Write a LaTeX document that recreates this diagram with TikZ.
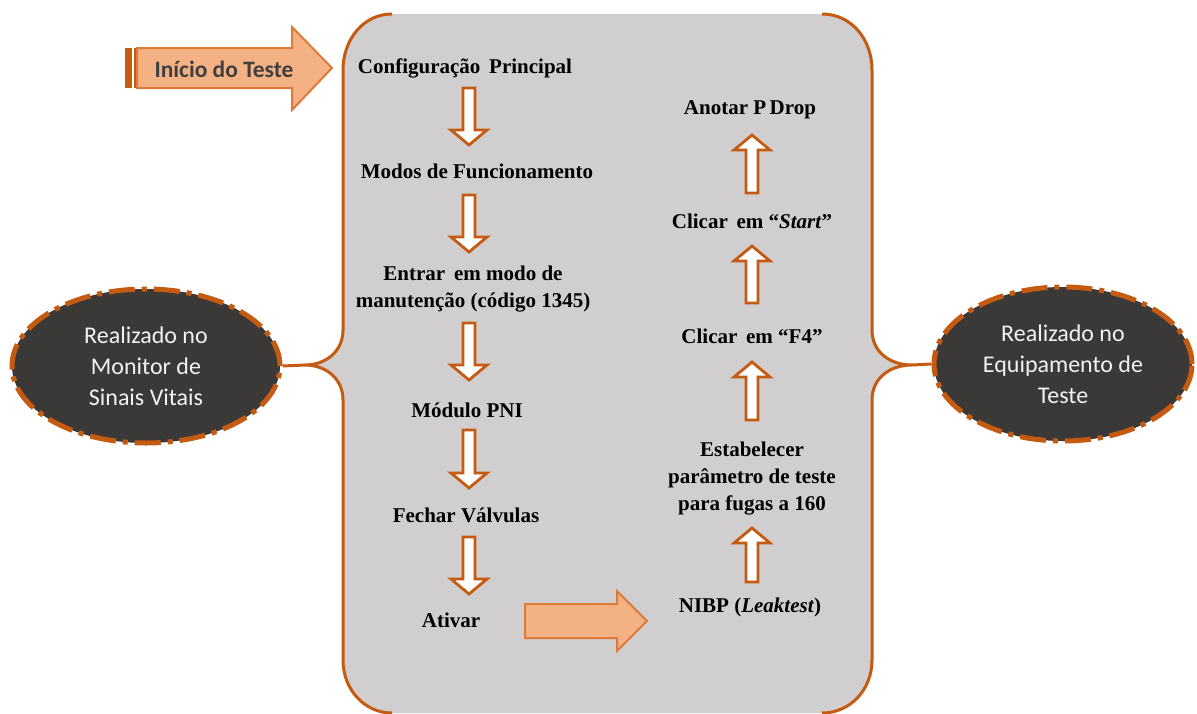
\documentclass[tikz,border=0pt]{standalone}
\usepackage{fontspec}
\setmainfont{Liberation Serif}
\newfontfamily\calib{Carlito}
\usetikzlibrary{shapes.geometric,calc}
\definecolor{brorange}{HTML}{C55A11}
\definecolor{lorange}{HTML}{F4B183}
\definecolor{morange}{HTML}{DD7B3A}
\definecolor{pgray}{HTML}{D0CECE}
\definecolor{dk}{HTML}{3B3838}
\definecolor{wt}{HTML}{F2F2F2}
\definecolor{txtg}{HTML}{404040}
\tikzset{
  steptext/.style={font=\fontsize{21}{27}\selectfont\bfseries, align=center, inner sep=0pt, text=black},
  oval/.style={ellipse, fill=dk, draw=brorange, line width=5pt,
    dash pattern=on 26pt off 7pt on 5pt off 7pt,
    minimum width=268pt, minimum height=154pt, inner sep=0pt,
    text=wt, align=center, font=\calib\fontsize{24}{31}\selectfont},
  braceline/.style={draw=brorange, line width=3pt},
  hollow/.style={draw=brorange, fill=white, line width=2.8pt, line join=miter},
  solidarrow/.style={draw=morange, fill=lorange, line width=2pt, line join=miter},
  blockdown/.style={to path={let \p1=(\tikztostart), \p2=(\tikztotarget) in
    (\x1-6pt,\y1) -- (\x1+6pt,\y1) -- (\x1+6pt,\y2+15pt) -- (\x1+18pt,\y2+15pt)
    -- (\x1,\y2) -- (\x1-18pt,\y2+15pt) -- (\x1-6pt,\y2+15pt) -- cycle}},
  blockup/.style={to path={let \p1=(\tikztostart), \p2=(\tikztotarget) in
    (\x1-6pt,\y1) -- (\x1+6pt,\y1) -- (\x1+6pt,\y2-15pt) -- (\x1+18pt,\y2-15pt)
    -- (\x1,\y2) -- (\x1-18pt,\y2-15pt) -- (\x1-6pt,\y2-15pt) -- cycle}},
  blockright/.style={to path={let \p1=(\tikztostart), \p2=(\tikztotarget) in
    (\x1,\y1+17pt) -- (\x2-30pt,\y1+17pt) -- (\x2-30pt,\y1+30pt) -- (\x2,\y1)
    -- (\x2-30pt,\y1-30pt) -- (\x2-30pt,\y1-17pt) -- (\x1,\y1-17pt) -- cycle}},
}
\begin{document}
\begin{tikzpicture}[x=1pt,y=-1pt]
\useasboundingbox[fill=white] (0,0) rectangle (1197,713);

% central gray brace panel
\fill[pgray] (392,14) -- (822,14) .. controls (852,14) and (872,40) .. (872,70)
  -- (872,330) .. controls (872,352) and (890,365) .. (912,365)
  .. controls (890,365) and (872,378) .. (872,400)
  -- (872,660) .. controls (872,690) and (850,713) .. (822,713)
  -- (392,713) .. controls (365,713) and (343,690) .. (343,660)
  -- (343,400) .. controls (343,378) and (325,365) .. (305,365)
  .. controls (325,365) and (343,352) .. (343,330)
  -- (343,70) .. controls (343,40) and (363,14) .. (392,14) -- cycle;
\draw[braceline] (392,14) .. controls (363,14) and (343,40) .. (343,70)
  -- (343,330) .. controls (343,352) and (325,365) .. (305,365)
  .. controls (325,365) and (343,378) .. (343,400)
  -- (343,660) .. controls (343,690) and (365,713) .. (392,713);
\draw[braceline] (822,14) .. controls (852,14) and (872,40) .. (872,70)
  -- (872,330) .. controls (872,352) and (890,365) .. (912,365)
  .. controls (890,365) and (872,378) .. (872,400)
  -- (872,660) .. controls (872,690) and (850,713) .. (822,713);
\coordinate (lp) at (305,365);
\coordinate (rp) at (912,365);

% ellipses
\node[oval] (L) at (146,366) {Realizado no\\Monitor de\\Sinais Vitais};
\node[oval, minimum width=258pt] (R) at (1063,364) {Realizado no\\Equipamento de\\Teste};
\draw[braceline] (lp) -- (L.east);
\draw[braceline] (rp) -- (R.west);

% start arrow
\fill[brorange] (125,48) rectangle (132,88);
\fill[brorange] (134,48) rectangle (136.5,88);
\draw[solidarrow] (137,48) -- (292,48) -- (292,27) -- (332,68) -- (292,110) -- (292,88) -- (137,88) -- cycle;
\node[font=\calib\fontsize{23.5}{26}\selectfont\bfseries, text=txtg, inner sep=0pt] (start) at (224,69) {Início do Teste};

% left column
\node[steptext] (n1) at (465,68) {Configuração\, Principal};
\node[steptext] (n2) at (477,171) {Modos de Funcionamento};
\node[steptext] (n3) at (473,289) {Entrar\, em modo de\\manutenção (código 1345)};
\node[steptext] (n4) at (467,410) {Módulo PNI};
\node[steptext] (n5) at (466,515) {Fechar Válvulas};
\node[steptext] (n6) at (451,620) {Ativar};

% right column
\node[steptext] (r1) at (750,110) {Anotar P\,Drop};
\node[steptext] (r2) at (752,221) {Clicar\, em “\textit{Start}”};
\node[steptext] (r3) at (752,336) {Clicar\, em “F4”};
\node[steptext] (r4) at (752,479) {Estabelecer\\parâmetro de teste\\para fugas a 160};
\node[steptext] (r5) at (750,607) {NIBP (\textit{Leaktest})};

% down arrows
\coordinate (d1a) at (469,88);  \coordinate (d1b) at (469,145);
\coordinate (d2a) at (469,195); \coordinate (d2b) at (469,252);
\coordinate (d3a) at (469,323); \coordinate (d3b) at (469,380);
\coordinate (d4a) at (469,430); \coordinate (d4b) at (469,488);
\coordinate (d5a) at (469,537); \coordinate (d5b) at (469,594);
\draw[hollow] (d1a) to[blockdown] (d1b);
\draw[hollow] (d2a) to[blockdown] (d2b);
\draw[hollow] (d3a) to[blockdown] (d3b);
\draw[hollow] (d4a) to[blockdown] (d4b);
\draw[hollow] (d5a) to[blockdown] (d5b);

% up arrows
\coordinate (u1a) at (752,193); \coordinate (u1b) at (752,135);
\coordinate (u2a) at (752,303); \coordinate (u2b) at (752,246);
\coordinate (u3a) at (752,420); \coordinate (u3b) at (752,362);
\coordinate (u4a) at (752,582); \coordinate (u4b) at (752,528);
\draw[hollow] (u1a) to[blockup] (u1b);
\draw[hollow] (u2a) to[blockup] (u2b);
\draw[hollow] (u3a) to[blockup] (u3b);
\draw[hollow] (u4a) to[blockup] (u4b);

% big right arrow
\coordinate (ha) at (525,621); \coordinate (hb) at (647,621);
\draw[solidarrow] (ha) to[blockright] (hb);
\end{tikzpicture}
\end{document}
